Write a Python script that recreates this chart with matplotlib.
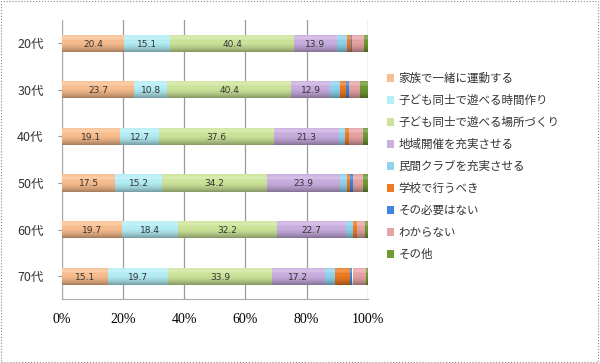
import numpy as np
import matplotlib
matplotlib.use("Agg")
import matplotlib.pyplot as plt
from matplotlib.patches import Rectangle

plt.rcParams['font.family'] = ['Noto Sans CJK JP', 'DejaVu Sans']

ages = ["20代", "30代", "40代", "50代", "60代", "70代"]
series = ["家族で一緒に運動する", "子ども同士で遊べる時間作り", "子ども同士で遊べる場所づくり",
          "地域開催を充実させる", "民間クラブを充実させる", "学校で行うべき",
          "その必要はない", "わからない", "その他"]
family = [20.4, 23.7, 19.1, 17.5, 19.7, 15.1]
play_time = [15.1, 10.8, 12.7, 15.2, 18.4, 19.7]
play_place = [40.4, 40.4, 37.6, 34.2, 32.2, 33.9]
local_event = [13.9, 12.9, 21.3, 23.9, 22.7, 17.2]
private_club = [3.5, 3.2, 2.0, 2.5, 2.0, 3.3]
school = [1.2, 2.0, 1.0, 0.8, 1.5, 5.0]
not_needed = [0.3, 1.0, 0.0, 1.1, 0.0, 0.8]
unknown = [3.8, 3.5, 4.8, 3.2, 2.5, 4.5]
other = [1.4, 2.5, 1.5, 1.6, 1.0, 0.5]
values = [family, play_time, play_place, local_event, private_club,
          school, not_needed, unknown, other]
labelled = 4  # first four series carry data labels

colors = ["#F9BE8F", "#B4EEF6", "#CDE59A", "#C9AEE0", "#8FD3EC",
          "#EE7A22", "#3F84DD", "#E6A3A3", "#6E9A34"]

fig = plt.figure(figsize=(6, 3.63), dpi=100)
ax = fig.add_axes([0.103, 0.175, 0.51, 0.77])

y = np.arange(len(ages))
h = 0.37
left = np.zeros(len(ages))
for name, vals, c in zip(series, values, colors):
    vals = np.array(vals)
    ax.barh(y, vals, height=h, left=left, color=c, edgecolor="none", label=name, zorder=3)
    left += vals
totals = left.copy()

# cylinder shading overlay
grad = np.linspace(0, 1, 64)
shade = np.zeros((64, 1, 4))
shade[..., 3] = (0.35 * (grad - 0.35) ** 2 / 0.42)[:, None]
shade[:22, 0, :3] = 1.0
shade[:22, 0, 3] = 0.25 * (1 - np.abs(grad[:22] - 0.2) / 0.2).clip(0)
for yi, tot in zip(y, totals):
    ax.imshow(shade, aspect="auto", extent=(0, tot, yi + h / 2, yi - h / 2),
              interpolation="bilinear", zorder=4)

left = np.zeros(len(ages))
for i, vals in enumerate(values):
    vals = np.array(vals)
    if i < labelled:
        for yi, l, v in zip(y, left, vals):
            ax.text(l + v / 2, yi + 0.02, f"{v:.1f}", ha="center", va="center",
                    fontsize=6.5, color="#333333", zorder=5, family="DejaVu Sans")
    left += vals

ax.set_xlim(0, 100)
ax.set_ylim(len(ages) - 0.5, -0.5)
ax.set_xticks(np.arange(0, 101, 20))
ax.set_xticklabels([f"{t}%" for t in range(0, 101, 20)], family="Liberation Serif", fontsize=10)
ax.set_yticks(y)
ax.set_yticklabels(ages, fontsize=9, color="#333333")
ax.tick_params(axis="y", length=3, color="#999999", pad=10)
ax.tick_params(axis="x", length=0, pad=10)
ax.grid(axis="x", color="#9a9a9a", lw=0.9, zorder=0)
for s in ["top", "right"]:
    ax.spines[s].set_visible(False)
for s in ["left", "bottom"]:
    ax.spines[s].set_color("#aaaaaa")

handles, labels = ax.get_legend_handles_labels()
leg = fig.legend(handles, labels, loc="upper left", bbox_to_anchor=(0.628, 0.83),
                 frameon=False, fontsize=8.3, handlelength=0.6, handleheight=0.6,
                 handletextpad=0.4, labelspacing=0.78, labelcolor="#333333")

fig.patches.append(Rectangle((0.002, 0.003), 0.994, 0.993, transform=fig.transFigure,
                             fill=False, ec="#888888", lw=0.8, ls=":"))

fig.savefig("out.png", dpi=100)
